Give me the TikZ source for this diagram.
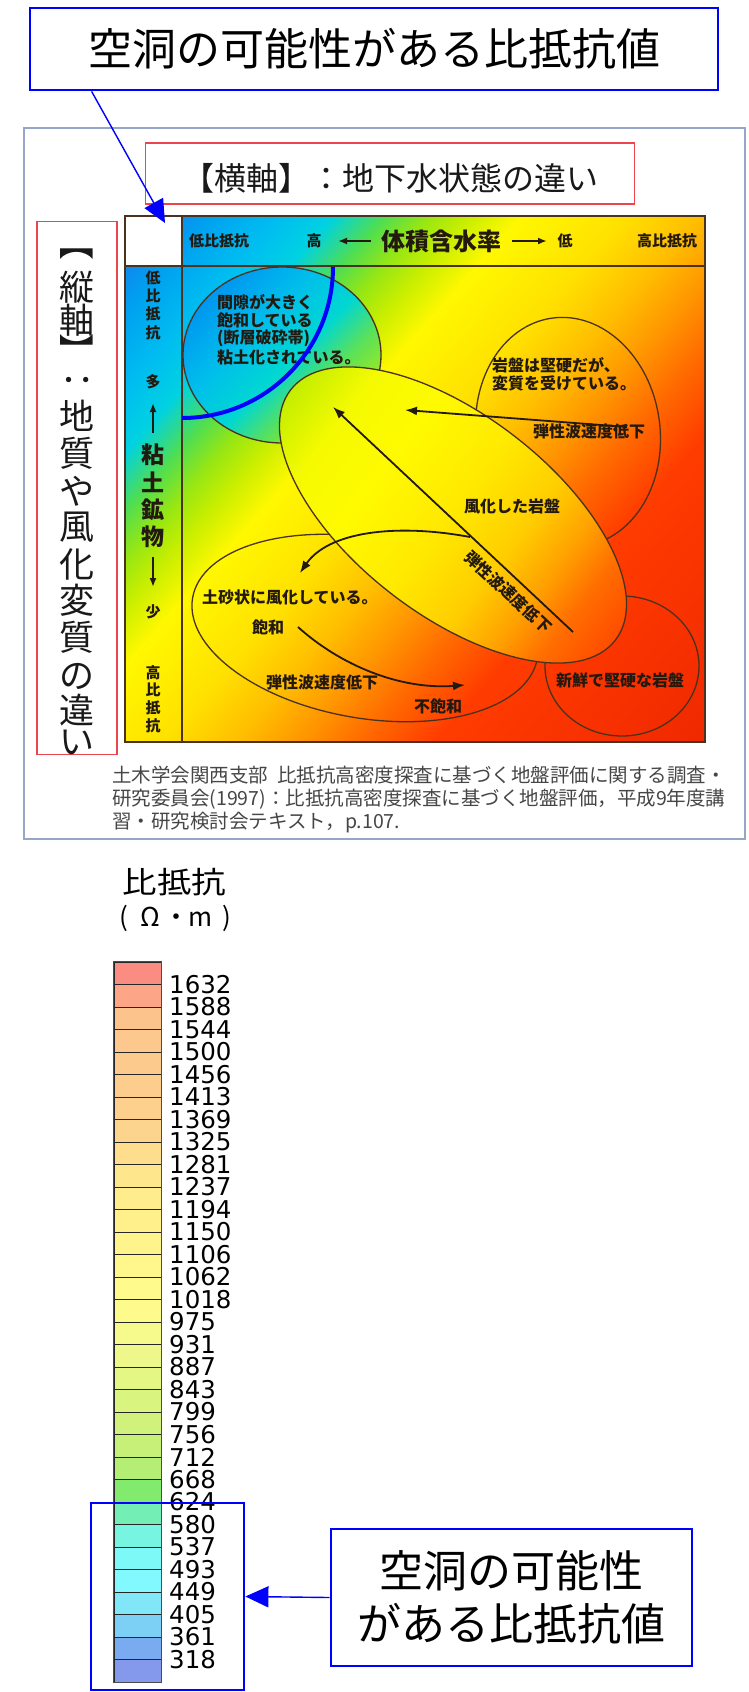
\documentclass[tikz,border=0pt]{standalone}
\usepackage{fontspec}
\newfontfamily\jp{Noto Sans CJK JP}
\newfontfamily\dv{DejaVu Sans}
\usetikzlibrary{arrows.meta,calc}

\definecolor{ink}{RGB}{35,25,15}
\definecolor{outl}{RGB}{75,50,30}
\definecolor{redb}{RGB}{235,70,80}
\definecolor{framec}{RGB}{150,165,200}
\definecolor{citec}{RGB}{70,70,70}
\definecolor{pureblue}{RGB}{0,0,255}

\definecolor{dA}{RGB}{30,110,235}
\definecolor{dB}{RGB}{0,160,240}
\definecolor{dC}{RGB}{0,190,240}
\definecolor{dD}{RGB}{0,210,225}
\definecolor{dE}{RGB}{80,222,80}
\definecolor{dF}{RGB}{150,230,20}
\definecolor{dG}{RGB}{200,238,0}
\definecolor{dH}{RGB}{255,248,0}
\definecolor{dI}{RGB}{255,225,0}
\definecolor{dJ}{RGB}{255,190,0}
\definecolor{dK}{RGB}{255,150,0}
\definecolor{dL}{RGB}{255,105,0}
\definecolor{dM}{RGB}{255,60,0}
\definecolor{dN}{RGB}{240,40,0}
\pgfdeclarehorizontalshading{diag}{100bp}{color(0bp)=(dA); color(25bp)=(dA); color(29bp)=(dB); color(32.5bp)=(dC); color(35bp)=(dD); color(37.5bp)=(dE); color(39.5bp)=(dF); color(41.5bp)=(dG); color(44bp)=(dH); color(49bp)=(dI); color(52.5bp)=(dJ); color(55.5bp)=(dK); color(58.5bp)=(dL); color(62bp)=(dM); color(75bp)=(dN); color(100bp)=(dN)}

\definecolor{eA}{RGB}{195,238,0}
\definecolor{eB}{RGB}{245,250,0}
\definecolor{eC}{RGB}{255,250,0}
\definecolor{eD}{RGB}{255,232,0}
\definecolor{eE}{RGB}{255,205,0}
\definecolor{eF}{RGB}{255,160,0}
\definecolor{eG}{RGB}{255,110,0}
\definecolor{eH}{RGB}{255,75,0}
\pgfdeclarehorizontalshading{ellsh}{100bp}{color(0bp)=(eA); color(25bp)=(eA); color(32bp)=(eB); color(40bp)=(eC); color(50bp)=(eD); color(58bp)=(eE); color(64bp)=(eF); color(69bp)=(eG); color(75bp)=(eH); color(100bp)=(eH)}

\definecolor{tA}{RGB}{0,150,240}
\definecolor{tB}{RGB}{0,190,235}
\definecolor{tC}{RGB}{0,215,210}
\definecolor{tD}{RGB}{90,225,90}
\definecolor{tE}{RGB}{175,235,15}
\pgfdeclarehorizontalshading{tlsh}{100bp}{color(0bp)=(tA); color(25bp)=(tA); color(40bp)=(tB); color(52.5bp)=(tC); color(62.5bp)=(tD); color(75bp)=(tE); color(100bp)=(tE)}

\begin{document}
\begin{tikzpicture}[x=1pt,y=-1pt,
  bluebox/.style={draw=pureblue, line width=2.8pt, fill=white, inner sep=0pt},
  redbox/.style={draw=redb, line width=1.4pt, inner sep=0pt},
  ctext/.style={font=\jp\bfseries\fontsize{16}{18.3}\selectfont, text=ink, inner sep=0pt},
  stext/.style={font=\jp\bfseries\fontsize{15}{18.3}\selectfont, text=ink, inner sep=0pt, align=center},
  vch/.style={font=\jp\fontsize{35}{35}\selectfont, text=black!90, inner sep=0pt},
  ellout/.style={draw=outl, line width=1.3pt},
  gridl/.style={draw=outl, line width=1.3pt},
  carr/.style={draw=ink, line width=1.8pt, -{Latex[length=12pt,width=9pt]}},
  harr/.style={draw=ink, line width=2pt, -{Latex[length=9pt,width=7pt]}},
  bluearr/.style={draw=pureblue, line width=1.4pt, -{Triangle[length=23pt,width=21pt]}},
  cellb/.style={draw=black!85, line width=0.8pt, minimum width=47pt, minimum height=22.5pt, inner sep=0pt},
  blab/.style={font=\dv\fontsize{24.5}{24.5}\selectfont, inner sep=0pt, anchor=west},
  citetext/.style={font=\jp\fontsize{19.5}{24}\selectfont, text=citec, inner sep=0pt, anchor=west}
]
\useasboundingbox (0,0) rectangle (748,1692);
\fill[white] (0,0) rectangle (748,1692);

% frame of the embedded figure
\node[draw=framec, line width=1.3pt, minimum width=721pt, minimum height=711pt, inner sep=0pt] (frame) at (384.5,483.5) {};

% red boxes
\node[redbox, minimum width=489pt, minimum height=61pt] (hbox) at (390,173.5) {};
\node[font=\jp\fontsize{32}{32}\selectfont, text=black!90, inner sep=0pt] (htext) at (390,178) {【横軸】：地下水状態の違い};
\node[redbox, minimum width=80pt, minimum height=533pt] (vbox) at (77,488) {};
\node[vch, rotate=-90] (vb1) at (77,243) {【};
\node[vch] (vc2) at (77,287) {縦};
\node[vch] (vc3) at (77,320) {軸};
\node[vch, rotate=-90] (vb2) at (77,351) {】};
\node[vch, rotate=-90] (vb3) at (77,380) {：};
\foreach \ch/\yy [count=\i] in {地/416,質/453,や/491,風/527,化/564,変/600,質/637,の/676,違/710,い/742}{
  \node[vch] (vc\i) at (77,\yy) {\ch};
}

% gradient chart
\begin{scope}
  \clip (125,216) rectangle (705,742);
  \shade[shading=diag, transform canvas={rotate around={-41.4:(415,479)}}] (23,89) rectangle (807,869);
\end{scope}
\fill[white] (125,216) rectangle (182,266);

% top-left circle glow
\begin{scope}
  \clip (282,355) ellipse [x radius=99, y radius=88];
  \shade[shading=tlsh, transform canvas={rotate around={-45:(282,355)}}] (188,255) rectangle (376,455);
\end{scope}

% outlines of the smaller ellipses
\draw[ellout] (282,355) ellipse [x radius=99, y radius=88];
\draw[ellout, rotate around={8:(568,432)}] (568,432) ellipse [x radius=92, y radius=115];
\draw[ellout, rotate around={-10:(365,628)}] (365,628) ellipse [x radius=175, y radius=90];
\draw[ellout] (622,666) ellipse [x radius=77, y radius=70];

% big ellipse (covers the others)
\begin{scope}
  \clip[rotate around={-37.6:(453,515)}] (453,515) ellipse [x radius=205, y radius=100];
  \shade[shading=ellsh, transform canvas={rotate around={-37.6:(453,515)}}] (248,410) rectangle (658,620);
\end{scope}
\draw[ellout, rotate around={-37.6:(453,515)}] (453,515) ellipse [x radius=205, y radius=100];

% grid lines
\draw[gridl] (125,266) -- (705,266);
\draw[gridl] (182,216) -- (182,742);
\draw[gridl] (125,216) rectangle (705,742);

% header
\node[stext] (h1) at (219,241) {低比抵抗};
\node[stext] (h2) at (314,241) {高};
\node[font=\jp\bfseries\fontsize{24}{24}\selectfont, text=ink, inner sep=0pt] (h3) at (441,241) {体積含水率};
\node[stext] (h4) at (565,241) {低};
\node[stext] (h5) at (667,241) {高比抵抗};
\draw[harr] (371,241) -- (338,241);
\draw[harr] (512,241) -- (547,241);

% left strip
\node[stext] (v1) at (153,305) {低\\比\\抵\\抗};
\node[stext] (v2) at (153,382) {多};
\draw[harr] (153,433) -- (153,403);
\node[font=\jp\bfseries\fontsize{23}{27.3}\selectfont, text=ink, inner sep=0pt, align=center] (v3) at (153,496) {粘\\土\\鉱\\物};
\draw[harr] (153,557) -- (153,587);
\node[stext] (v4) at (153,612) {少};
\node[font=\jp\bfseries\fontsize{15}{17.7}\selectfont, text=ink, inner sep=0pt, align=center] (v5) at (153,699) {高\\比\\抵\\抗};

% chart arrows
\draw[carr] (627,427) -- (405,410);
\draw[carr] (573,632) -- (333,407);
\draw[carr] (470,537) .. controls (395,523) and (328,532) .. (300,573);
\draw[carr] (298,627) .. controls (340,665) and (400,690) .. (465,685);

% chart texts
\node[ctext, anchor=west] (tl1) at (217,302) {間隙が大きく};
\node[ctext, anchor=west] (tl2) at (217,320) {飽和している};
\node[ctext, anchor=west] (tl3) at (217,338) {(断層破砕帯)};
\node[ctext, anchor=west] (tl4) at (217,357) {粘土化されている。};
\node[ctext, anchor=west] (ur1) at (492,365) {岩盤は堅硬だが、};
\node[ctext, anchor=west] (ur2) at (492,383) {変質を受けている。};
\node[ctext, anchor=west] (dv1) at (533,431) {弾性波速度低下};
\node[ctext] (wr) at (512,506) {風化した岩盤};
\node[ctext, rotate=-43.2] (dv2) at (508,592) {弾性波速度低下};
\node[ctext, anchor=west] (ll1) at (202,597) {土砂状に風化している。};
\node[ctext] (sat) at (268,627) {飽和};
\node[ctext] (dv3) at (322,682) {弾性波速度低下};
\node[ctext] (uns) at (438,706) {不飽和};
\node[ctext] (brt) at (620,680) {新鮮で堅硬な岩盤};

% blue arc
\draw[pureblue, line width=4pt] (333,267) arc[start angle=0, end angle=90, radius=151];

% citation
\node[citetext] (c1) at (112,775) {土木学会関西支部\hspace{9pt}比抵抗高密度探査に基づく地盤評価に関する調査・};
\node[citetext] (c2) at (112,799) {研究委員会(1997)：比抵抗高密度探査に基づく地盤評価，平成9年度講};
\node[citetext] (c3) at (112,823) {習・研究検討会テキスト，p.107.};

% top callout
\node[bluebox, minimum width=688pt, minimum height=82pt, font=\jp\fontsize{44}{50}\selectfont] (topbox) at (374,49) {空洞の可能性がある比抵抗値};
\coordinate (tipA) at (165,223);
\draw[bluearr] ($(topbox.south west)+(63,0)$) -- (tipA);

% colour bar
\node[font=\jp\fontsize{30}{30}\selectfont, inner sep=0pt] (ttl) at (174.5,882) {\scalebox{1.15}[1]{比抵抗}};
\node[font=\jp\fontsize{26}{26}\selectfont, inner sep=0pt] (unit) at (175,918) {\makebox[27pt]{(}\makebox[27pt]{Ω}\makebox[25pt]{・}\makebox[24pt]{m}\makebox[27pt]{)}};
\foreach \col [count=\i] in {{250,140,130},{252,165,135},{253,195,140},{253,200,142},{253,202,142},{253,205,142},{253,208,142},{253,212,142},{254,222,140},{254,230,140},{255,236,140},{255,240,140},{255,244,140},{255,247,140},{255,250,140},{252,251,140},{246,250,140},{238,248,138},{228,246,132},{218,244,128},{208,242,124},{198,240,120},{180,238,116},{130,235,110},{115,238,180},{120,245,225},{125,250,248},{130,248,255},{128,230,248},{125,208,245},{122,170,240},{132,152,236}}{
  \edef\tmpdef{\noexpand\definecolor{bc}{RGB}{\col}}\tmpdef
  \node[cellb, fill=bc] (cell\i) at (137.5,{962+22.5*(\i-0.5)}) {};
}
\draw[draw=black!70, line width=1pt] (cell1.north west) rectangle (cell32.south east);
\foreach \v [count=\i] in {1632,1588,1544,1500,1456,1413,1369,1325,1281,1237,1194,1150,1106,1062,1018,975,931,887,843,799,756,712,668,624,580,537,493,449,405,361,318}{
  \node[blab] (lab\i) at (169,{962+22.5*\i}) {\v};
}

% highlight and bottom callout
\node[draw=pureblue, line width=2.8pt, minimum width=153pt, minimum height=187pt, inner sep=0pt] (hlbox) at (167.5,1596.5) {};
\node[bluebox, minimum width=361pt, minimum height=137pt, align=center, font=\jp\fontsize{44}{53}\selectfont] (botbox) at (511.5,1597.5) {空洞の可能性\\がある比抵抗値};
\draw[bluearr] (botbox.west) -- (hlbox.east);
\end{tikzpicture}
\end{document}
